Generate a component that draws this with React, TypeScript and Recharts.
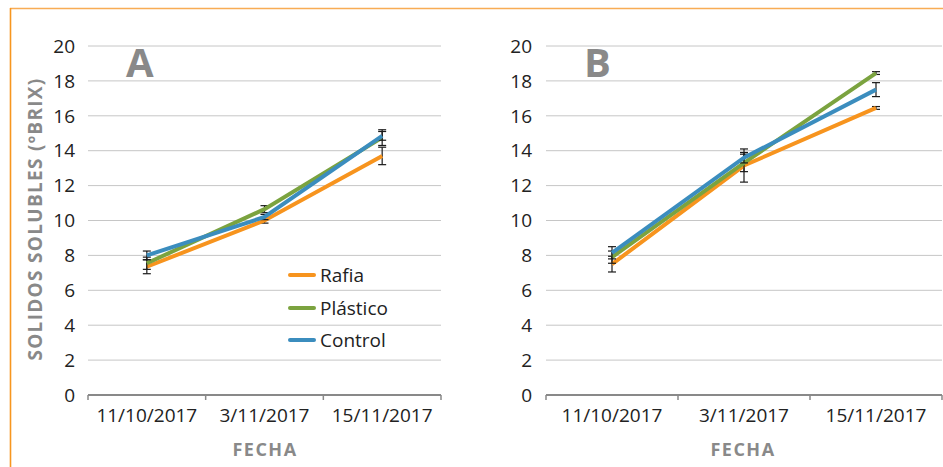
import React from 'react';
import { LineChart, Line, XAxis, YAxis, CartesianGrid, ErrorBar, Legend } from 'recharts';

const dates = ['11/10/2017', '3/11/2017', '15/11/2017'];
const yTicks = [0, 2, 4, 6, 8, 10, 12, 14, 16, 18, 20];
const seriesNames = ['Rafia', 'Plástico', 'Control'];
const seriesColors = ['#F7941E', '#7BA33F', '#3B8DBE'];

// Panel A
const rafiaA = [7.35, 10.0, 13.7];
const rafiaAErr = [0.4, 0.15, 0.5];
const plasticoA = [7.55, 10.65, 14.75];
const plasticoAErr = [0.35, 0.2, 0.45];
const controlA = [8.0, 10.2, 14.85];
const controlAErr = [0.25, 0.15, 0.25];

// Panel B
const rafiaB = [7.5, 13.15, 16.45];
const rafiaBErr = [0.45, 0.95, 0.08];
const plasticoB = [7.9, 13.3, 18.45];
const plasticoBErr = [0.35, 0.5, 0.08];
const controlB = [8.15, 13.6, 17.5];
const controlBErr = [0.35, 0.3, 0.4];

const FONT = '"Open Sans", "Noto Sans", sans-serif';
const GREY = '#898989';

const buildRows = (r: number[], re: number[], p: number[], pe: number[], c: number[], ce: number[]) =>
  dates.map((d, i) => ({
    x: i + 0.5,
    date: d,
    s0: r[i], e0: re[i],
    s1: p[i], e1: pe[i],
    s2: c[i], e2: ce[i],
  }));

const dataA = buildRows(rafiaA, rafiaAErr, plasticoA, plasticoAErr, controlA, controlAErr);
const dataB = buildRows(rafiaB, rafiaBErr, plasticoB, plasticoBErr, controlB, controlBErr);

const xTicks = [0, 0.5, 1, 1.5, 2, 2.5, 3];

const XTick = (props: any) => {
  const { x, y, payload } = props;
  const v = payload.value;
  if (Number.isInteger(v)) {
    return <line x1={x} x2={x} y1={y} y2={y + 5} stroke={GREY} strokeWidth={1.5} />;
  }
  const idx = Math.floor(v);
  return (
    <text x={x} y={y + 27} textAnchor="middle" fontFamily={FONT} fontSize={19} fill="#222">
      {dates[idx]}
    </text>
  );
};

const LegendContent = () => (
  <div style={{ fontFamily: FONT, fontSize: 19, color: '#222' }}>
    {seriesNames.map((n, i) => (
      <div key={n} style={{ display: 'flex', alignItems: 'center', height: 32.5 }}>
        <svg width={28} height={10} style={{ marginRight: 4 }}>
          <line x1={2} x2={26} y1={5} y2={5} stroke={seriesColors[i]} strokeWidth={4} strokeLinecap="round" />
        </svg>
        <span>{n}</span>
      </div>
    ))}
  </div>
);

const Panel = ({ data, yWidth, rightMargin, width, tickMargin, legend }: any) => (
  <LineChart width={width} height={467} data={data} margin={{ top: 46, right: rightMargin, bottom: 0, left: 0 }}>
    <CartesianGrid vertical={false} stroke="#C6C6C6" strokeWidth={1} />
    <XAxis
      dataKey="x"
      type="number"
      domain={[0, 3]}
      ticks={xTicks}
      interval={0}
      tick={<XTick />}
      tickLine={false}
      tickSize={0}
      tickMargin={0}
      height={72}
      axisLine={{ stroke: GREY, strokeWidth: 2 }}
    />
    <YAxis
      domain={[0, 20]}
      ticks={yTicks}
      interval={0}
      width={yWidth}
      axisLine={false}
      tickLine={false}
      tickSize={0}
      tickMargin={tickMargin}
      tick={{ fontFamily: FONT, fontSize: 19, fill: '#222' }}
    />
    {legend && (
      <Legend
        layout="vertical"
        align="center"
        verticalAlign="middle"
        content={<LegendContent />}
        wrapperStyle={{ position: 'absolute', left: 288, top: 259, width: 140 }}
      />
    )}
    {[0, 1, 2].map((i) => (
      <Line
        key={i}
        dataKey={`s${i}`}
        name={seriesNames[i]}
        stroke={seriesColors[i]}
        strokeWidth={4}
        dot={false}
        activeDot={false}
        isAnimationActive={false}
      >
        <ErrorBar dataKey={`e${i}`} width={4} strokeWidth={1.2} stroke="#1a1a1a" direction="y" />
      </Line>
    ))}
  </LineChart>
);

export default function App() {
  return (
    <div style={{ position: 'absolute', left: 0, top: 0, width: 943, height: 467, background: '#fff', overflow: 'hidden' }}>
      <svg width={943} height={467} style={{ position: 'absolute', left: 0, top: 0 }}>
        <line x1={10} x2={943} y1={8.5} y2={8.5} stroke="#F8AC55" strokeWidth={1.6} />
        <line x1={10.5} x2={10.5} y1={8} y2={467} stroke="#F7961F" strokeWidth={1.6} />
        <text x={126} y={77} fontFamily={FONT} fontWeight={700} fontSize={40} fill={GREY}>A</text>
        <text x={584} y={77} fontFamily={FONT} fontWeight={700} fontSize={40} fill={GREY}>B</text>
        <text
          transform="translate(35,219) rotate(-90)"
          textAnchor="middle"
          dominantBaseline="central"
          fontFamily={FONT}
          fontWeight={700}
          fontSize={19}
          letterSpacing={1.3}
          fill={GREY}
        >
          SOLIDOS SOLUBLES (ºBRIX)
        </text>
        <text x={265} y={456} textAnchor="middle" fontFamily={FONT} fontWeight={700} fontSize={18} letterSpacing={1.5} fill={GREY}>FECHA</text>
        <text x={743} y={456} textAnchor="middle" fontFamily={FONT} fontWeight={700} fontSize={18} letterSpacing={1.5} fill={GREY}>FECHA</text>
      </svg>
      <div style={{ position: 'absolute', left: 0, top: 0 }}>
        <Panel data={dataA} yWidth={88} rightMargin={19} width={460} tickMargin={13} legend />
      </div>
      <div style={{ position: 'absolute', left: 470, top: 0 }}>
        <Panel data={dataB} yWidth={76} rightMargin={1} width={473} tickMargin={14} legend={false} />
      </div>
    </div>
  );
}
